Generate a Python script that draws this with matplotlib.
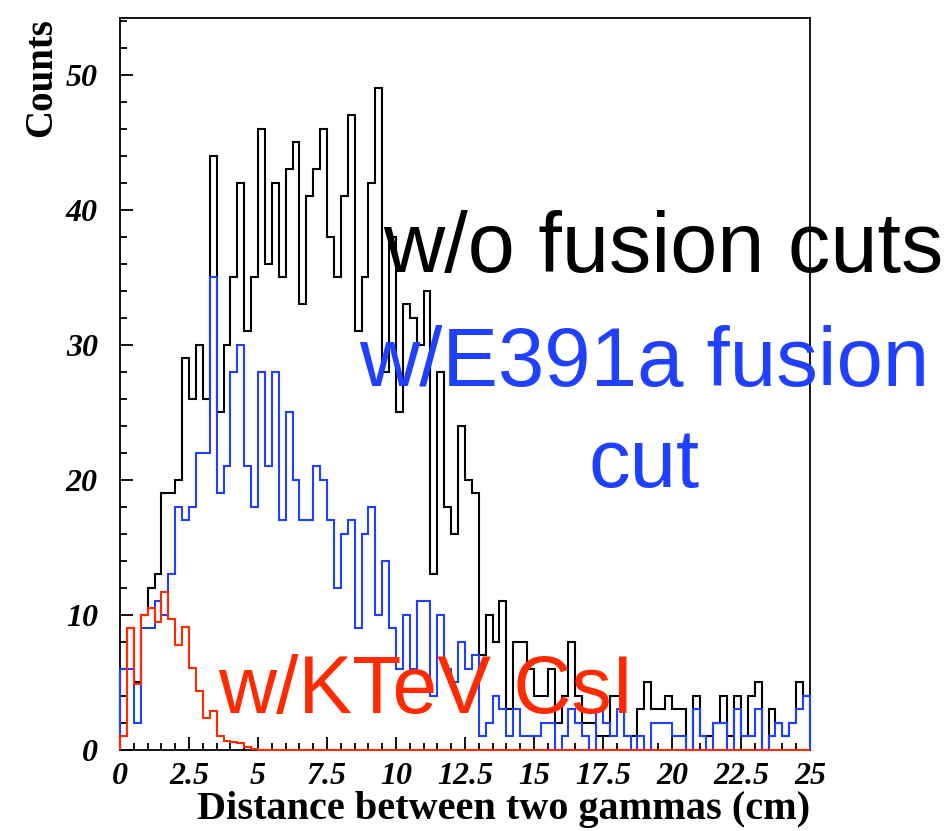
import numpy as np
import matplotlib.pyplot as plt
from matplotlib.ticker import MultipleLocator, FuncFormatter

# 100 bins of 0.25 cm between 0 and 25 cm
edges = np.linspace(0, 25, 101)

# counts without fusion cuts
no_cut = [6, 9, 5, 10, 12, 13, 19, 19, 20, 29,
          26, 30, 26, 44, 25, 30, 35, 42, 31, 35,
          46, 36, 42, 35, 43, 45, 33, 41, 43, 46,
          38, 35, 41, 47, 31, 35, 42, 49, 28, 38,
          25, 33, 32, 30, 34, 13, 28, 18, 16, 24,
          20, 19, 7, 10, 8, 11, 3, 8, 8, 6,
          4, 4, 6, 2, 4, 8, 4, 2, 2, 1,
          1, 4, 4, 1, 1, 3, 5, 3, 3, 4,
          3, 3, 0, 4, 1, 1, 2, 4, 1, 4,
          1, 4, 5, 0, 3, 2, 1, 2, 5, 4]

# counts with the E391a fusion cut
e391a_cut = [6, 6, 2, 9, 9, 11, 10, 13, 18, 17,
             18, 22, 22, 35, 19, 21, 28, 30, 21, 18,
             28, 21, 28, 17, 25, 20, 17, 17, 21, 20,
             17, 12, 16, 17, 9, 16, 18, 10, 14, 9,
             6, 10, 6, 11, 11, 4, 10, 6, 5, 8,
             6, 7, 1, 2, 4, 3, 1, 3, 1, 1,
             1, 2, 2, 0, 1, 3, 2, 1, 0, 3,
             2, 1, 3, 1, 0, 1, 0, 2, 2, 2,
             1, 1, 0, 3, 1, 0, 2, 2, 0, 3,
             1, 1, 3, 0, 1, 2, 1, 2, 3, 4]

# expected with KTeV CsI
ktev = [1.0, 9.0, 4.9, 10.0, 10.5, 9.5, 11.7, 9.7, 7.8, 9.1,
        6.1, 4.4, 2.4, 2.9, 1.0, 0.7, 0.6, 0.5, 0.2, 0.05] + [0.0] * 80

blue = '#1f40ff'
red = '#ff2a00'

fig = plt.figure(figsize=(9.48, 8.31), dpi=100)
ax = fig.add_axes([0.1266, 0.0975, 0.7278, 0.8805])

# histograms sit above the frame so the zero level shows along the bottom
ax.stairs(no_cut, edges, color='black', lw=1.5, zorder=3, clip_on=False)
ax.stairs(e391a_cut, edges, color=blue, lw=1.5, zorder=3, clip_on=False)
ax.stairs(ktev, edges, color=red, lw=1.5, zorder=3, clip_on=False)

ax.set_xlim(0, 25)
ax.set_ylim(0, 54.2)
ax.xaxis.set_major_locator(MultipleLocator(2.5))
ax.xaxis.set_minor_locator(MultipleLocator(0.5))
ax.yaxis.set_major_locator(MultipleLocator(10))
ax.yaxis.set_minor_locator(MultipleLocator(2))
ax.xaxis.set_major_formatter(FuncFormatter(lambda v, p: f'{v:g}'))

ax.tick_params(which='both', direction='in', top=False, right=False,
               width=1.3, labelsize=23)
ax.tick_params(which='major', length=9.5)
ax.tick_params(which='minor', length=5)
ax.tick_params(axis='x', pad=9)
ax.tick_params(axis='y', pad=16)
for lab in ax.get_xticklabels() + ax.get_yticklabels():
    lab.set_family('Liberation Serif')
    lab.set_fontweight('bold')
    lab.set_fontstyle('italic')
for s in ax.spines.values():
    s.set_linewidth(1.3)

ax.set_xlabel('Distance between two gammas (cm)', family='Liberation Serif',
              fontweight='bold', fontsize=29, loc='right', labelpad=0)
ax.set_ylabel('Counts', family='Liberation Serif', fontweight='bold',
              fontsize=28, loc='top', labelpad=4)

fig.text(383 / 948, 1 - 272 / 831, 'w/o fusion cuts', color='black',
         family='Liberation Sans', fontsize=61, va='baseline')
fig.text(644 / 948, 1 - 386 / 831, 'w/E391a fusion', color=blue,
         family='Liberation Sans', fontsize=60, va='baseline', ha='center')
fig.text(644 / 948, 1 - 487 / 831, 'cut', color=blue,
         family='Liberation Sans', fontsize=60, va='baseline', ha='center')
fig.text(218 / 948, 1 - 713 / 831, 'w/KTeV CsI', color=red,
         family='Liberation Sans', fontsize=58, va='baseline')

fig.savefig('out.png', dpi=100)
